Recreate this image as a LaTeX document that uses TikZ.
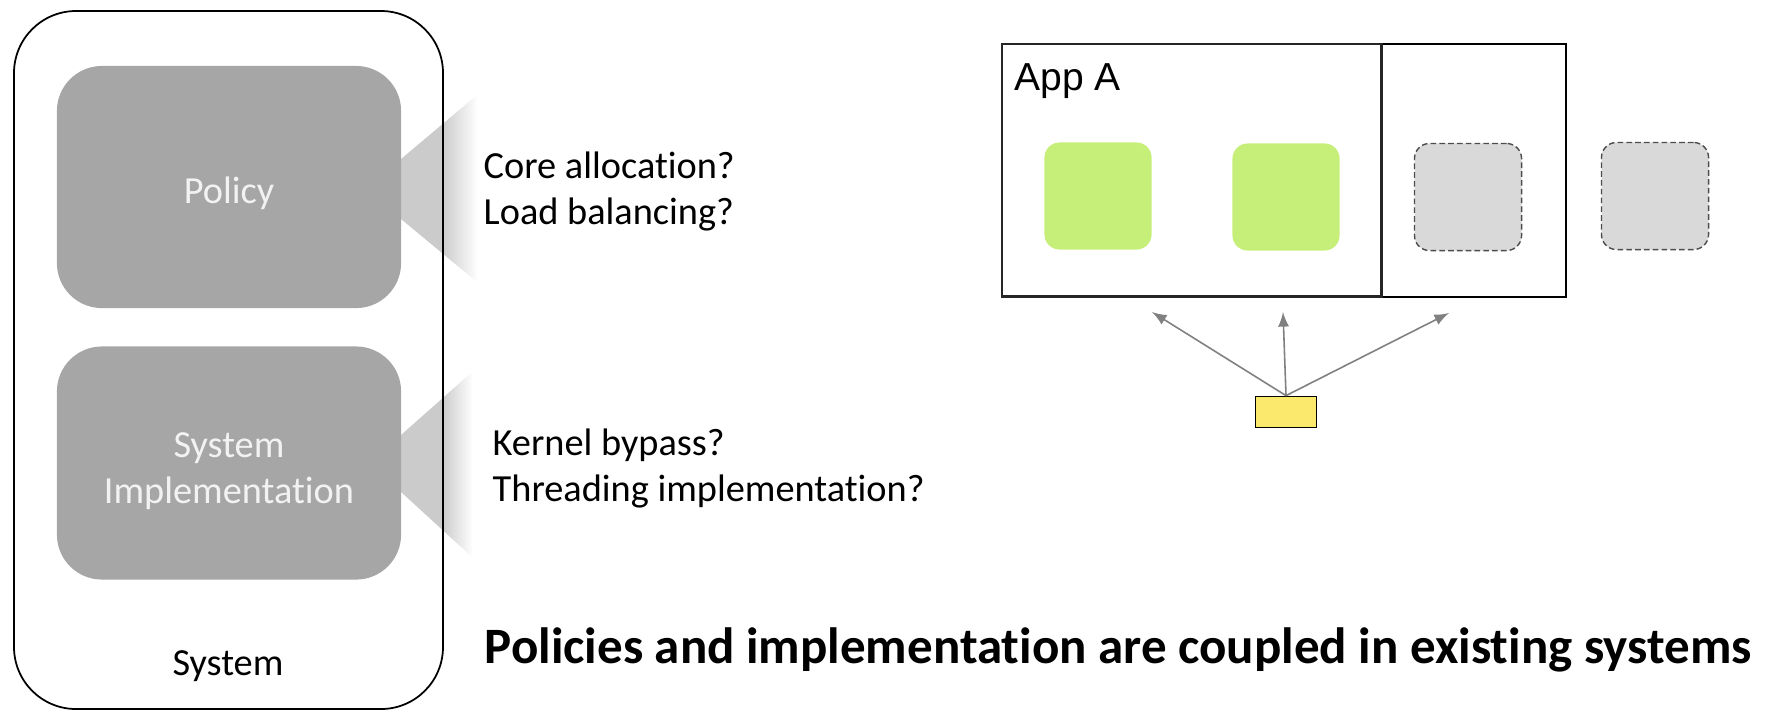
\documentclass[tikz,border=0pt]{standalone}
\usepackage{fontspec}
\setmainfont{Carlito}[Ligatures=NoCommon]
\newfontfamily\appfont{Liberation Sans}
\usetikzlibrary{positioning}
\definecolor{boxgray}{HTML}{A6A6A6}
\definecolor{wedgegray}{HTML}{CBCBCB}
\definecolor{coregreen}{HTML}{C6EF7A}
\definecolor{idlegray}{HTML}{D9D9D9}
\definecolor{nicyellow}{HTML}{FBE96E}
\definecolor{arrowgray}{HTML}{808080}
\begin{document}
\begin{tikzpicture}[x=0.01cm,y=-0.01cm]
            \tikzstyle{every node}=[inner sep=0pt,font=\fontsize{10.9pt}{12.9pt}\selectfont]
            \tikzstyle{layer}=[rounded corners=0.45cm,fill=boxgray,text=white!95!black,minimum width=3.44cm,align=center,text depth=0pt]
            \tikzstyle{core}=[rounded corners=0.15cm,minimum width=1.07cm,minimum height=1.07cm]
            \tikzstyle{idle}=[core,fill=idlegray,draw=black!70,dash pattern=on 1.6pt off 0.9pt,line width=0.4pt]
            \tikzstyle{arrow}=[-latex,draw=arrowgray,line width=0.45pt]
            \useasboundingbox (0,0) rectangle (1777,711);
            % callout wedges
            \begin{scope}
                \clip (401,159) -- (477,95) -- (477,282) -- (401,219) -- cycle;
                \fill[wedgegray] (400,90) rectangle (443,290);
                \shade[left color=wedgegray,right color=white] (442,90) rectangle (478,290);
            \end{scope}
            \begin{scope}
                \clip (401,435) -- (472,372) -- (472,557) -- (401,492) -- cycle;
                \fill[wedgegray] (400,365) rectangle (443,565);
                \shade[left color=wedgegray,right color=white] (442,365) rectangle (473,565);
            \end{scope}
            \draw[line width=0.5pt,rounded corners=0.62cm] (14,11) rectangle (443,709);
            \node[layer,minimum height=2.42cm,text height=0.32cm] (policy) at (229,187) {Policy};
            \node[layer,minimum height=2.33cm,text height=0.8cm] (impl) at (229,463) {System\\Implementation};
            \node[anchor=base] (system) at (228,675) {System};
            \node[anchor=base west,align=left] (q1) at (483,224) {Core allocation?\\Load balancing?};
            \node[anchor=base west,align=left] (q2) at (492,501) {Kernel bypass?\\Threading implementation?};
            \node[anchor=base west,font=\fontsize{14.5pt}{17pt}\selectfont\bfseries] (claim) at (484,663) {Policies and implementation are coupled in existing systems};
            % machine with cores
            \draw (1001,43) node [draw,line width=0.45pt,anchor=north west,minimum width=5.64cm,minimum height=2.53cm] (machine) {};
            \draw (1001,43) node [draw=black!85,line width=0.7pt,anchor=north west,minimum width=3.79cm,minimum height=2.52cm] (appa) {};
            \draw (1014,90) node [anchor=base west,font=\appfont\fontsize{11.1pt}{13pt}\selectfont] (applabel) {App A};
            \draw (1098,196) node [core,fill=coregreen] (c1) {};
            \draw (1286,197) node [core,fill=coregreen] (c2) {};
            \draw (1468,197) node [idle] (c3) {};
            \draw (1655,196) node [idle] (c4) {};
            \draw (1286,412) node [draw,fill=nicyellow,line width=0.5pt,minimum width=0.61cm,minimum height=0.31cm] (nic) {};
            \coordinate (t1) at (1152,312);
            \coordinate (t2) at (1283,312);
            \coordinate (t3) at (1449,313);
            \draw[arrow] (nic.north) -- (t1);
            \draw[arrow] (nic.north) -- (t2);
            \draw[arrow] (nic.north) -- (t3);
        \end{tikzpicture}
\end{document}
